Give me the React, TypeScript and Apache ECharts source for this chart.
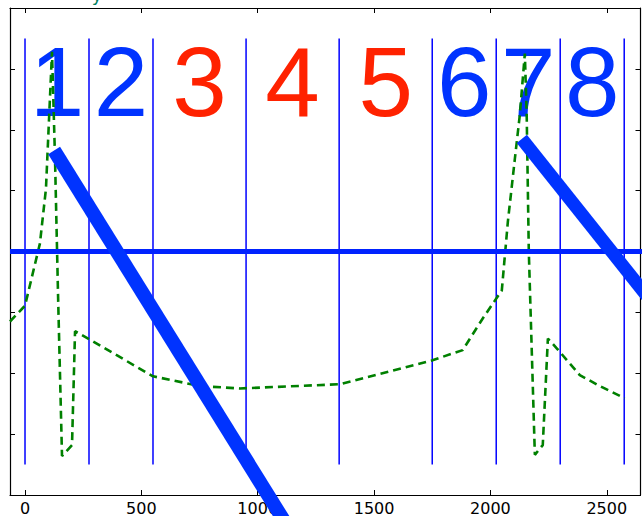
import React, { useEffect, useRef } from "react";
import * as echarts from "echarts";

const xTicks = [0, 500, 1000, 1500, 2000, 2500];
const xMin = -64.5;
const xMax = 2645;
const yMin = 0;
const yMax = 8;

const dividerX = [0, 275, 550, 950, 1350, 1750, 2025, 2300, 2575];
const dividerBottom = 0.5;
const dividerTop = 7.5;

const digitLabels = ["1", "2", "3", "4", "5", "6", "7", "8"];
const digitX = [137.5, 412.5, 750, 1150, 1550, 1887.5, 2162.5, 2437.5];
const digitY = 6.79;
const BLUE = "#0033ff";
const RED = "#ff2200";
const digitColors = [BLUE, BLUE, RED, RED, RED, BLUE, BLUE, BLUE];

const greenX = [-64.5, 0, 64, 90, 116, 129, 142, 159, 202, 215, 275, 550, 752, 923, 1353, 1748, 1881, 1967, 2049, 2075, 2105, 2126, 2148, 2156, 2165, 2191, 2225, 2247, 2285, 2384, 2470, 2577];
const greenY = [2.85, 3.11, 4.13, 5.03, 7.28, 5.52, 3.28, 0.64, 0.82, 2.69, 2.56, 1.95, 1.79, 1.75, 1.82, 2.21, 2.38, 2.9, 3.36, 4.49, 5.52, 6.23, 7.25, 6.23, 4.0, 0.66, 0.82, 2.57, 2.41, 1.97, 1.79, 1.59];

const diag1X = [125, 1210];
const diag1Y = [5.66, -1.02];
const diag2X = [2135, 3000];
const diag2Y = [5.85, 1.7];
const horizX = [-64.5, 2900];
const horizY = [4, 4];

const zip = (xs: number[], ys: number[]) => xs.map((x, i) => [x, ys[i]]);

export default function App() {
  const ref = useRef<HTMLDivElement>(null);
  useEffect(() => {
    if (!ref.current) return;
    const chart = echarts.init(ref.current, null, { renderer: "svg" });
    const tickStyle = { show: true, inside: true, length: 5, lineStyle: { color: "#000", width: 1 } };
    const axisLine = { show: true, onZero: false, lineStyle: { color: "#000", width: 1.2 } };
    const series: any[] = [];
    dividerX.forEach((x) => {
      series.push({
        type: "line",
        data: [[x, dividerBottom], [x, dividerTop]],
        symbol: "none",
        lineStyle: { color: "#0000ff", width: 1.5 },
        z: 2,
        silent: true,
      });
    });
    series.push({
      type: "scatter",
      symbolSize: 1,
      itemStyle: { color: "rgba(0,0,0,0)", opacity: 1 },
      data: digitLabels.map((d, i) => ({
        name: d,
        value: [digitX[i], digitY],
        label: { color: digitColors[i], opacity: 1 },
      })),
      label: {
        show: true,
        position: "inside",
        formatter: (p: any) => p.name,
        fontSize: 98,
        fontFamily: "Liberation Sans",
        align: "center",
        verticalAlign: "middle",
        opacity: 1,
      },
      z: 2,
    });
    series.push({
      type: "line",
      data: zip(greenX, greenY),
      symbol: "none",
      lineStyle: { color: "#008000", width: 2.6, type: [8, 5] },
      z: 3,
      clip: true,
    });
    series.push({
      type: "line",
      data: zip(horizX, horizY),
      symbol: "none",
      lineStyle: { color: "#0022ff", width: 5 },
      z: 4,
      clip: false,
    });
    series.push({
      type: "line",
      data: zip(diag1X, diag1Y),
      symbol: "none",
      lineStyle: { color: BLUE, width: 14, cap: "butt" },
      z: 5,
      clip: false,
    });
    series.push({
      type: "line",
      data: zip(diag2X, diag2Y),
      symbol: "none",
      lineStyle: { color: BLUE, width: 13, cap: "butt" },
      z: 5,
      clip: false,
    });
    chart.setOption({
      animation: false,
      backgroundColor: "#fff",
      grid: { left: 10, right: 1.5, top: 8, bottom: 19, containLabel: false },
      xAxis: [
        {
          type: "value",
          min: xMin,
          max: xMax,
          position: "bottom",
          axisLine,
          axisTick: { ...tickStyle, customValues: xTicks },
          axisLabel: {
            show: true,
            customValues: xTicks,
            formatter: (v: number) => String(v),
            fontSize: 16,
            color: "#000",
            fontFamily: "DejaVu Sans",
            margin: 5,
          },
          splitLine: { show: false },
        },
        {
          type: "value",
          min: xMin,
          max: xMax,
          position: "top",
          axisLine,
          axisTick: { ...tickStyle, customValues: xTicks },
          axisLabel: { show: false },
          splitLine: { show: false },
        },
      ],
      yAxis: [
        {
          type: "value",
          min: yMin,
          max: yMax,
          interval: 1,
          position: "left",
          axisLine,
          axisTick: tickStyle,
          axisLabel: { show: false },
          splitLine: { show: false },
        },
        {
          type: "value",
          min: yMin,
          max: yMax,
          interval: 1,
          position: "right",
          axisLine,
          axisTick: tickStyle,
          axisLabel: { show: false },
          splitLine: { show: false },
        },
      ],
      graphic: [
        {
          type: "text",
          x: 97,
          y: -6,
          style: {
            text: "y",
            fontSize: 18,
            fontFamily: "DejaVu Sans",
            fill: "#008060",
            align: "center",
            verticalAlign: "middle",
          },
        },
      ],
      series,
    });
    return () => chart.dispose();
  }, []);
  return (
    <div
      ref={ref}
      style={{ position: "fixed", left: 0, top: 0, width: 642, height: 516, background: "#fff" }}
    />
  );
}
